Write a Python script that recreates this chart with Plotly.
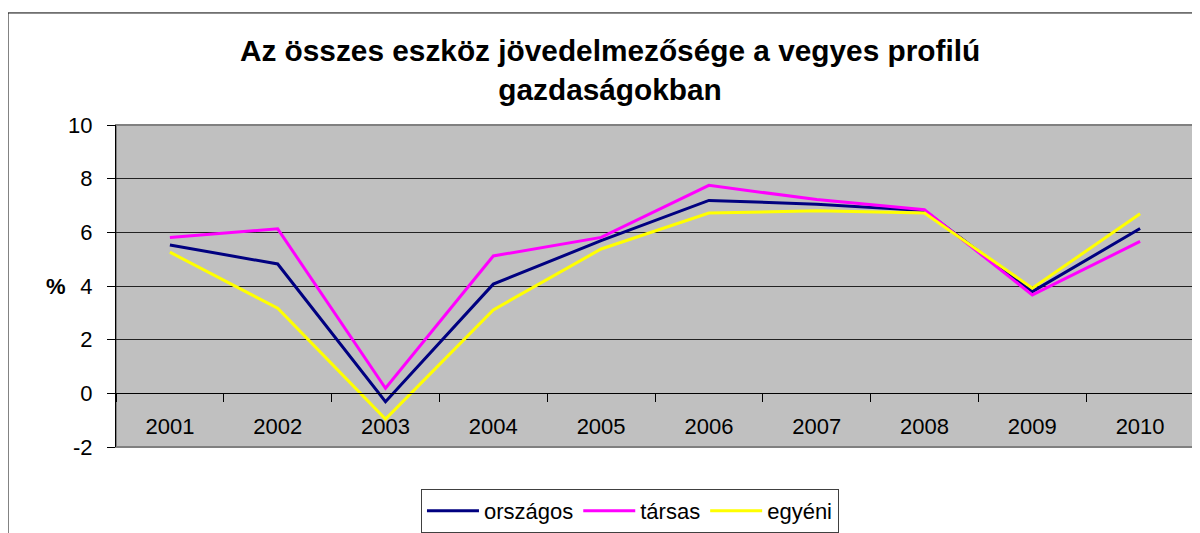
import plotly.graph_objects as go

years = ["2001", "2002", "2003", "2004", "2005", "2006", "2007", "2008", "2009", "2010"]
orszagos = [5.53, 4.82, -0.31, 4.07, 5.69, 7.19, 7.05, 6.81, 3.79, 6.14]
tarsas = [5.81, 6.13, 0.19, 5.12, 5.81, 7.75, 7.22, 6.84, 3.67, 5.66]
egyeni = [5.26, 3.17, -0.96, 3.11, 5.38, 6.72, 6.80, 6.72, 3.92, 6.69]

y_tickvals = [-2, 0, 2, 4, 6, 8, 10]
y_ticktext = ["-2", "0", "2", "4", "6", "8", "10"]

FONT = "Arial, Liberation Sans, sans-serif"

fig = go.Figure()
fig.add_trace(go.Scatter(x=years, y=orszagos, name="országos", mode="lines",
                         line=dict(color="#000080", width=3)))
fig.add_trace(go.Scatter(x=years, y=tarsas, name="társas", mode="lines",
                         line=dict(color="#FF00FF", width=3)))
fig.add_trace(go.Scatter(x=years, y=egyeni, name="egyéni", mode="lines",
                         line=dict(color="#FFFF00", width=3)))

fig.update_layout(
    width=1200, height=533,
    margin=dict(l=108, r=14, t=117, b=94, autoexpand=False),
    paper_bgcolor="white",
    plot_bgcolor="#C0C0C0",
    font=dict(family=FONT, color="black", size=22),
    title=dict(
        text="<b>Az összes eszköz jövedelmezősége a vegyes profilú<br>gazdaságokban</b>",
        x=0.5017, xanchor="center", y=0.901, yanchor="middle",
        font=dict(family=FONT, size=29.8, color="black"),
    ),
    showlegend=True,
    legend=dict(
        orientation="h", x=0.2829, xanchor="left", y=-0.13, yanchor="top",
        bgcolor="white", bordercolor="#404040", borderwidth=1,
        font=dict(family=FONT, size=22, color="black"),
        itemwidth=52, tracegroupgap=0,
    ),
    xaxis=dict(
        type="category",
        range=[-0.5, 9.5],
        anchor="free", position=2 / 12,
        showline=True, linecolor="black", linewidth=1,
        ticks="outside", ticklen=8, tickcolor="black", tickson="boundaries",
        showgrid=False, zeroline=False,
        tickfont=dict(family=FONT, size=22, color="black"),
        ticklabelstandoff=13,
        fixedrange=True,
    ),
    yaxis=dict(
        range=[-2, 10],
        tickvals=y_tickvals, ticktext=y_ticktext,
        showline=True, linecolor="black", linewidth=1,
        ticks="outside", ticklen=8, tickcolor="black",
        showgrid=True, gridcolor="#222222", gridwidth=1,
        zeroline=False,
        tickfont=dict(family=FONT, size=22, color="black"),
        ticklabelstandoff=10,
    ),
    shapes=[
        dict(type="rect", xref="paper", yref="paper", x0=0, x1=1, y0=0, y1=1,
             line=dict(color="#808080", width=2), layer="below"),
        dict(type="rect", xref="paper", yref="paper", x0=-0.1002, x1=1.2, y0=-0.6, y1=1.348,
             line=dict(color="black", width=1), layer="below"),
    ],
    annotations=[
        dict(text="<b>%</b>", xref="paper", yref="paper", x=-0.0557, y=0.5,
             showarrow=False, font=dict(family=FONT, size=22, color="black"),
             xanchor="center", yanchor="middle"),
    ],
)

fig.write_html("out.html")
